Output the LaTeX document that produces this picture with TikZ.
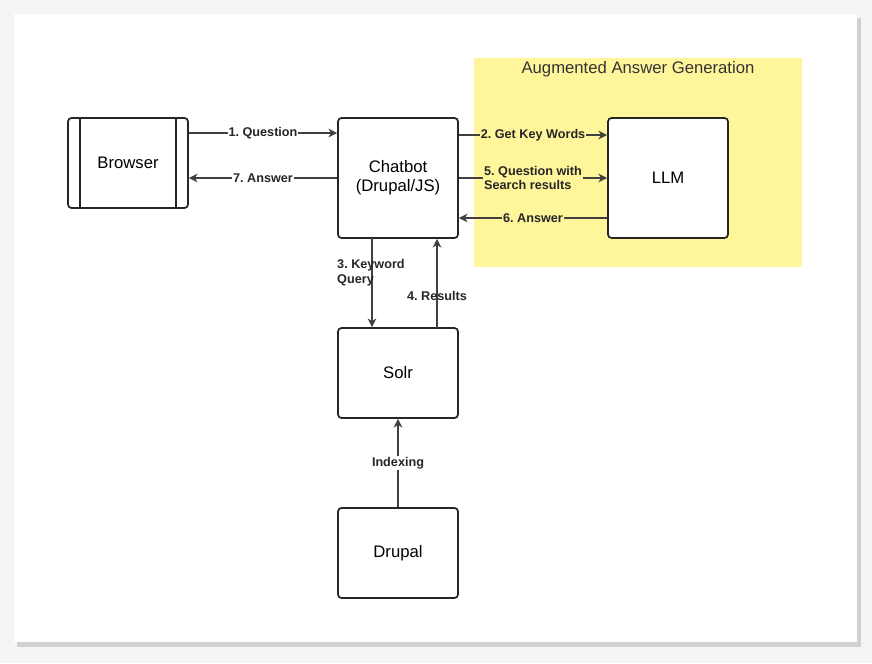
\documentclass[tikz,border=0pt]{standalone}
\usepackage{fontspec}
\setmainfont{Liberation Sans}
\frenchspacing
\usetikzlibrary{arrows.meta,positioning}
\definecolor{groupyellow}{HTML}{FFF59A}

\tikzset{
  box/.style={draw=black!85, line width=1pt, rounded corners=2pt, minimum width=2.4cm,
    minimum height=1.8cm, fill=white, font=\fontsize{9.5}{11}\selectfont, align=center},
  link/.style={draw=black!75, line width=0.7pt, -{Stealth[length=5pt,width=5pt]}},
  lbl/.style={font=\bfseries\fontsize{7.2}{8.5}\selectfont, text=black!85, inner sep=0.5pt}
}

\begin{document}
\begin{tikzpicture}[x=0.02cm, y=-0.02cm]
\useasboundingbox (0,0) rectangle (872,663);
\fill[black!4] (0,0) rectangle (872,663);
% card with shadow
\fill[black!18] (17,18) rectangle (861,647);
\fill[white] (14,14) rectangle (857,642);

% group area
\fill[groupyellow] (474,58) rectangle (802,267);
\node[font=\fontsize{9.5}{11}\selectfont, text=black!80] (title) at (638,69) {Augmented Answer Generation};

% blocks
\node[box] (browser) at (128,163) {Browser};
\draw[black!85, line width=1pt] (80,118) -- (80,208) (176,118) -- (176,208);
\node[box, minimum height=2.4cm] (chatbot) at (398,178) {Chatbot\\(Drupal/JS)};
\node[box, minimum height=2.4cm] (llm) at (668,178) {LLM};
\node[box] (solr) at (398,373) {Solr};
\node[box] (drupal) at (398,553) {Drupal};

% connectors
\draw[link] (browser.east |- 0,133) -- node[lbl, fill=white] {1. Question} (chatbot.west |- 0,133);
\draw[link] (chatbot.west) -- node[lbl, fill=white] {7. Answer} (browser.east |- chatbot.west);
\draw[link] (chatbot.east |- 0,135) -- node[lbl, fill=groupyellow] {2. Get Key Words} (llm.west |- 0,135);
\draw[link] (chatbot.east) -- node[lbl, fill=groupyellow, align=left] {5. Question with\\Search results} (llm.west);
\draw[link] (llm.west |- 0,218) -- node[lbl, fill=groupyellow] {6. Answer} (chatbot.east |- 0,218);
\draw[link] (372,238) coordinate (qa) -- (qa |- solr.north);
\node[lbl, align=left, anchor=west] (kq) at (336,273) {3. Keyword\\Query};
\draw[link] (437,328) coordinate (rb) -- (rb |- chatbot.south);
\node[lbl] (res) at (437,296) {4. Results};
\draw[link] (drupal.north) -- node[lbl, fill=white] {Indexing} (solr.south);
\end{tikzpicture}
\end{document}
